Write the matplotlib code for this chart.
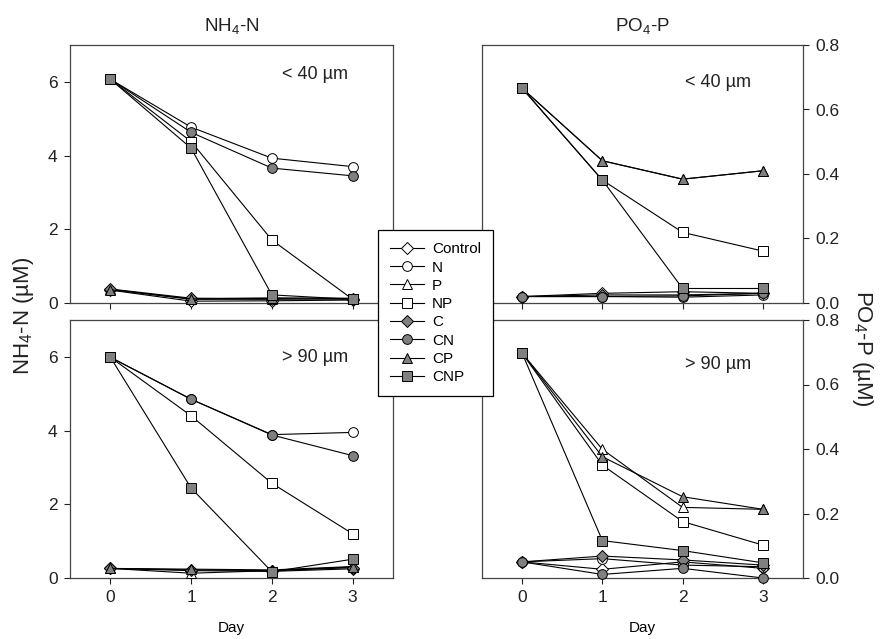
import matplotlib
matplotlib.use("Agg")
import matplotlib.pyplot as plt
from matplotlib.lines import Line2D

plt.rcParams['font.family'] = ['Liberation Sans', 'DejaVu Sans']
plt.rcParams['mathtext.fontset'] = 'custom'
plt.rcParams['mathtext.rm'] = 'Liberation Sans'
plt.rcParams['mathtext.it'] = 'Liberation Sans'
plt.rcParams['mathtext.default'] = 'regular'

days = [0, 1, 2, 3]
treatments = ["Control", "N", "P", "NP", "C", "CN", "CP", "CNP"]

# NH4-N, < 40 um
nh4_small = {
    "Control": [0.35, 0.05, 0.06, 0.08],
    "N":       [6.07, 4.77, 3.93, 3.70],
    "P":       [0.37, 0.10, 0.10, 0.12],
    "NP":      [6.07, 4.38, 1.71, 0.10],
    "C":       [0.38, 0.13, 0.12, 0.10],
    "CN":      [6.07, 4.63, 3.66, 3.45],
    "CP":      [0.36, 0.11, 0.14, 0.13],
    "CNP":     [6.07, 4.20, 0.22, 0.10],
}
# NH4-N, > 90 um
nh4_large = {
    "Control": [0.26, 0.20, 0.18, 0.25],
    "N":       [5.99, 4.85, 3.89, 3.95],
    "P":       [0.26, 0.13, 0.20, 0.30],
    "NP":      [5.99, 4.40, 2.57, 1.20],
    "C":       [0.26, 0.22, 0.20, 0.28],
    "CN":      [5.99, 4.85, 3.88, 3.32],
    "CP":      [0.26, 0.24, 0.22, 0.31],
    "CNP":     [5.99, 2.44, 0.17, 0.51],
}
# PO4-P, < 40 um
po4_small = {
    "Control": [0.020, 0.030, 0.035, 0.030],
    "N":       [0.020, 0.020, 0.018, 0.025],
    "P":       [0.666, 0.441, 0.384, 0.410],
    "NP":      [0.666, 0.381, 0.219, 0.161],
    "C":       [0.020, 0.025, 0.025, 0.030],
    "CN":      [0.020, 0.020, 0.022, 0.030],
    "CP":      [0.666, 0.441, 0.384, 0.410],
    "CNP":     [0.666, 0.381, 0.045, 0.045],
}
# PO4-P, > 90 um
po4_large = {
    "Control": [0.050, 0.027, 0.050, 0.030],
    "N":       [0.050, 0.060, 0.040, 0.035],
    "P":       [0.697, 0.399, 0.219, 0.213],
    "NP":      [0.697, 0.350, 0.175, 0.102],
    "C":       [0.050, 0.068, 0.056, 0.040],
    "CN":      [0.050, 0.011, 0.030, 0.000],
    "CP":      [0.697, 0.376, 0.252, 0.213],
    "CNP":     [0.697, 0.116, 0.085, 0.047],
}

GRAY = '#808080'
styles = {
    "Control": ('D', 'white'),
    "N":       ('o', 'white'),
    "P":       ('^', 'white'),
    "NP":      ('s', 'white'),
    "C":       ('D', GRAY),
    "CN":      ('o', GRAY),
    "CP":      ('^', GRAY),
    "CNP":     ('s', GRAY),
}
msize = {'D': 6, 'o': 7, '^': 7.5, 's': 6.5}

W, H = 888, 639
fig = plt.figure(figsize=(W / 100, H / 100), dpi=100)

def rect(x0, x1, y0, y1):
    return [x0 / W, 1 - y1 / H, (x1 - x0) / W, (y1 - y0) / H]

ax_tl = fig.add_axes(rect(70, 393, 45, 303))
ax_bl = fig.add_axes(rect(70, 393, 320, 578))
ax_tr = fig.add_axes(rect(482, 803, 45, 303))
ax_br = fig.add_axes(rect(482, 803, 320, 578))

panels = [
    (ax_tl, nh4_small, "< 40 \u00b5m", (0.861, 0.884), 7, [0, 2, 4, 6], False, False),
    (ax_bl, nh4_large, "> 90 \u00b5m", (0.861, 0.853), 7, [0, 2, 4, 6], False, True),
    (ax_tr, po4_small, "< 40 \u00b5m", (0.838, 0.853), 0.8, [0.0, 0.2, 0.4, 0.6, 0.8], True, False),
    (ax_br, po4_large, "> 90 \u00b5m", (0.838, 0.826), 0.8, [0.0, 0.2, 0.4, 0.6, 0.8], True, True),
]

for ax, data, label, lpos, ymax, yt, right, bottom in panels:
    for t in treatments:
        m, fc = styles[t]
        ax.plot(days, data[t], color='black', lw=0.8, marker=m, ms=msize[m],
                mfc=fc, mec='black', mew=0.7, clip_on=False, zorder=3)
    ax.set_xlim(-0.5, 3.5)
    ax.set_ylim(0, ymax)
    ax.set_xticks(days)
    ax.set_yticks(yt)
    if right:
        ax.yaxis.tick_right()
        ax.set_yticklabels([f"{v:.1f}" for v in yt])
    else:
        ax.set_yticklabels([str(v) for v in yt])
    if not bottom:
        ax.set_xticklabels([])
    else:
        ax.set_xlabel("Day", fontsize=11, labelpad=11)
    ax.tick_params(direction='out', length=4, width=0.8, labelsize=12.5,
                   colors='#222222', pad=5)
    for s in ax.spines.values():
        s.set_color('#444444')
        s.set_linewidth(0.9)
    ax.text(lpos[0], lpos[1], label, transform=ax.transAxes, ha='right',
            va='center', fontsize=13, color='#222222')

ax_tl.set_title("NH$_4$-N", fontsize=13.5, pad=10, color='#222222')
ax_tr.set_title("PO$_4$-P", fontsize=13.5, pad=10, color='#222222')

fig.text(24 / W, 1 - 316 / H, "NH$_4$-N (\u00b5M)", rotation=90, ha='center',
         va='center', fontsize=16, color='#222222')
fig.text(862 / W, 1 - 348 / H, "PO$_4$-P (\u00b5M)", rotation=270, ha='center',
         va='center', fontsize=16, color='#222222')

handles = []
for t in treatments:
    m, fc = styles[t]
    handles.append(Line2D([0], [0], color='black', lw=0.8, marker=m,
                          ms=msize[m], mfc=fc, mec='black', mew=0.7))
leg = fig.legend(handles, treatments, loc='upper left',
                 bbox_to_anchor=(378 / W, 1 - 230 / H), borderaxespad=0,
                 fontsize=11, frameon=True, fancybox=False, handlelength=2.2,
                 handletextpad=0.55, labelspacing=0.28, borderpad=0.8)
leg.get_frame().set_edgecolor('black')
leg.get_frame().set_linewidth(0.9)
leg.get_frame().set_facecolor('white')
leg.get_frame().set_alpha(1)

fig.savefig("out.png", dpi=100)
